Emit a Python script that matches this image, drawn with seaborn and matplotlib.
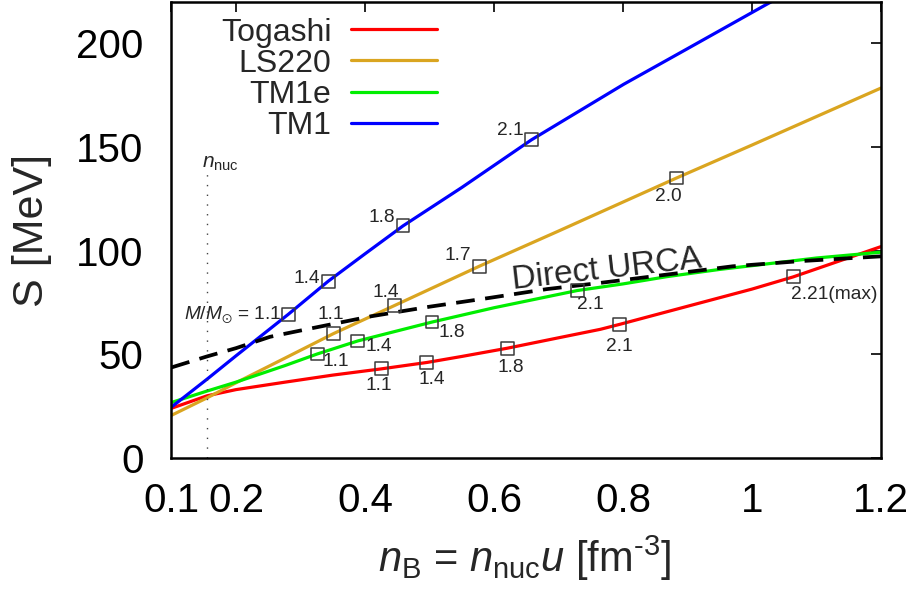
import numpy as np
import pandas as pd
import matplotlib
matplotlib.use("Agg")
import matplotlib.pyplot as plt
import seaborn as sns

# ---------------- data ----------------
models = ["Togashi", "LS220", "TM1e", "TM1"]
colors = ["#ff0000", "#daa520", "#00ee00", "#0000ff"]

togashi_x = [0.1, 0.155, 0.2, 0.276, 0.35, 0.425, 0.496, 0.55, 0.621, 0.7, 0.765, 0.795, 0.93, 1.0, 1.064, 1.2]
togashi_y = [24.0, 30.0, 33.0, 36.6, 40.0, 43.0, 46.1, 49.0, 53.0, 58.0, 62.1, 64.5, 75.7, 81.5, 87.4, 102.0]

ls220_x = [0.1, 0.155, 0.2, 0.276, 0.351, 0.446, 0.577, 0.7, 0.883, 1.0, 1.2]
ls220_y = [20.6, 29.0, 36.3, 48.2, 60.0, 73.6, 92.5, 109.5, 135.1, 151.0, 178.5]

tm1e_x = [0.1, 0.155, 0.2, 0.276, 0.326, 0.389, 0.504, 0.6, 0.729, 0.8, 0.868, 0.95, 1.0, 1.1, 1.2]
tm1e_y = [26.8, 32.3, 36.6, 44.6, 50.2, 56.5, 65.6, 72.5, 80.8, 84.0, 87.5, 91.0, 92.8, 96.5, 99.3]

tm1_x = [0.1, 0.155, 0.2, 0.281, 0.343, 0.4, 0.459, 0.55, 0.658, 0.801, 0.9, 1.021, 1.1]
tm1_y = [24.6, 38.0, 49.3, 69.3, 85.3, 98.5, 112.0, 130.5, 153.5, 180.3, 197.5, 218.6, 232.0]

durca_x = [0.1, 0.155, 0.2, 0.253, 0.3, 0.408, 0.5, 0.594, 0.682, 0.765, 0.868, 0.97, 1.075, 1.2]
durca_y = [43.7, 49.0, 53.0, 58.5, 61.5, 68.3, 73.0, 77.3, 81.5, 84.5, 88.5, 92.5, 95.0, 97.3]

# stellar-mass markers (M/Msun) on each curve
togashi_m = ["1.1", "1.4", "1.8", "2.1", "2.21(max)"]
togashi_mx = [0.425, 0.496, 0.621, 0.795, 1.064]
togashi_my = [43.0, 46.1, 53.0, 64.5, 87.4]

ls220_m = ["1.1", "1.4", "1.7", "2.0"]
ls220_mx = [0.351, 0.446, 0.577, 0.883]
ls220_my = [60.0, 73.6, 92.5, 135.1]

tm1e_m = ["1.1", "1.4", "1.8", "2.1"]
tm1e_mx = [0.326, 0.389, 0.504, 0.729]
tm1e_my = [50.2, 56.5, 65.6, 80.8]

tm1_m = [r"$M/M_{\odot}$ = 1.1", "1.4", "1.8", "2.1"]
tm1_mx = [0.281, 0.343, 0.459, 0.658]
tm1_my = [69.3, 85.3, 112.0, 153.5]

n_nuc = 0.155
x_ticks = [0.1, 0.2, 0.4, 0.6, 0.8, 1.0, 1.2]
x_ticklabels = ["0.1", "0.2", "0.4", "0.6", "0.8", "1", "1.2"]
y_ticks = [0, 50, 100, 150, 200]

# ---------------- style ----------------
sns.set_theme(style="white")
plt.rcParams["font.family"] = ["Liberation Sans", "DejaVu Sans"]
plt.rcParams["mathtext.fontset"] = "custom"
plt.rcParams["mathtext.rm"] = "Liberation Sans"
plt.rcParams["mathtext.it"] = "Liberation Sans:italic"
plt.rcParams["mathtext.bf"] = "Liberation Sans:bold"
plt.rcParams["mathtext.fallback"] = "stixsans"

fig = plt.figure(figsize=(9.14, 5.97), dpi=100)
ax = fig.add_axes([0.1876, 0.2328, 0.9639 - 0.1876, 0.9966 - 0.2328])

frames = []
for name, xs, ys in [("Togashi", togashi_x, togashi_y), ("LS220", ls220_x, ls220_y),
                     ("TM1e", tm1e_x, tm1e_y), ("TM1", tm1_x, tm1_y)]:
    frames.append(pd.DataFrame({"nB": xs, "S": ys, "model": name}))
df = pd.concat(frames, ignore_index=True)

sns.lineplot(data=df, x="nB", y="S", hue="model", hue_order=models,
             palette=dict(zip(models, colors)), linewidth=2.3, sort=False,
             estimator=None, ax=ax)

# direct URCA threshold
sns.lineplot(x=durca_x, y=durca_y, color="black", linewidth=2.7, ax=ax,
             legend=False, sort=False, estimator=None)
ax.lines[-1].set_dashes([5, 2.8])

# n_nuc dotted line
ax.plot([n_nuc, n_nuc], [0, 138], color="#444444", linewidth=1.0,
        linestyle=(0, (1, 6)))
ax.text(n_nuc - 0.007, 140.0, r"$n_{\rm nuc}$", fontsize=15, ha="left",
        va="baseline")

# markers
mx = togashi_mx + ls220_mx + tm1e_mx + tm1_mx
my = togashi_my + ls220_my + tm1e_my + tm1_my
ax.scatter(mx, my, marker="s", s=85, facecolors="none", edgecolors="#3a3a3a",
           linewidths=1.1, zorder=5)

# mass labels (offsets in pixels; y up)
offsets = {
    "Togashi": [(-2, -17, "center"), (5, -17, "center"), (3, -19, "center"),
                (0, -22, "center"), (-2, -18, "left")],
    "LS220": [(-3, 19, "center"), (-9, 13, "center"), (-21, 11, "center"),
              (-8, -19, "center")],
    "TM1e": [(19, -8, "center"), (21, -6, "center"), (20, -10, "center"),
             (13, -14, "center")],
    "TM1": [(-7, 0, "right"), (-21, 3, "center"), (-21, 8, "center"),
            (-21, 9, "center")],
}
for name, labs, xs, ys in [("Togashi", togashi_m, togashi_mx, togashi_my),
                           ("LS220", ls220_m, ls220_mx, ls220_my),
                           ("TM1e", tm1e_m, tm1e_mx, tm1e_my),
                           ("TM1", tm1_m, tm1_mx, tm1_my)]:
    for lab, x, y, (dx, dy, ha) in zip(labs, xs, ys, offsets[name]):
        ax.annotate(lab, xy=(x, y), xytext=(dx, dy), textcoords="offset pixels",
                    ha=ha, va="center", fontsize=13.8)

ax.text(0.775, 91.0, "Direct URCA", fontsize=24, ha="center", va="center",
        rotation=6.5, rotation_mode="anchor")

# axes
ax.set_xlim(0.1, 1.2)
ax.set_ylim(0, 220)
ax.set_xticks(x_ticks)
ax.set_xticklabels(x_ticklabels)
ax.set_yticks(y_ticks)
ax.tick_params(axis="both", which="both", direction="in", length=7, width=1.2,
               top=True, right=True, labelsize=29, colors="black")
ax.tick_params(axis="x", pad=17)
ax.tick_params(axis="y", pad=20)
for sp in ax.spines.values():
    sp.set_linewidth(1.8)
    sp.set_color("black")

ax.set_xlabel(r"$n_{\rm B}$ = $n_{\rm nuc}u$ [fm$^{\text{-3}}$]", fontsize=30)
ax.set_ylabel("S [MeV]", fontsize=31)
ax.xaxis.set_label_coords(0.497, -0.166)
ax.yaxis.set_label_coords(-0.168, 0.5)

handles, labels = ax.get_legend_handles_labels()
hl = [(h, l) for h, l in zip(handles, labels) if l in models]
leg = ax.legend([h for h, _ in hl], [l for _, l in hl], loc="upper right",
                bbox_to_anchor=(0.374, 0.966), frameon=False, markerfirst=False,
                fontsize=23, handlelength=2.7, handletextpad=0.6,
                labelspacing=0.035, borderpad=0, borderaxespad=0)
for line in leg.get_lines():
    line.set_linewidth(2.3)

fig.savefig("out.png", dpi=100)
